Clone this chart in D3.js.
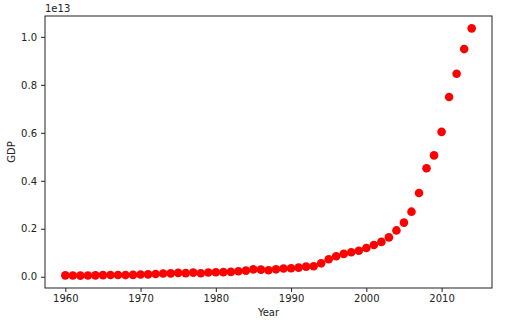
<!DOCTYPE html>
<html>
<head>
<meta charset="utf-8">
<script src="https://cdn.jsdelivr.net/npm/d3@7"></script>
<style>
  html, body { margin: 0; padding: 0; background: #fff; }
  svg { display: block; font-family: "DejaVu Sans", sans-serif; }
</style>
</head>
<body>
<svg id="chart" width="515" height="332"></svg>
<script>
// China GDP, current US$, 1960-2014
const years = d3.range(1960, 2015);
const gdp = [
  5.918e10, 4.956e10, 4.680e10, 5.000e10, 5.900e10, 6.970e10, 7.588e10, 7.206e10, 6.999e10, 7.872e10,
  9.150e10, 9.856e10, 1.1216e11, 1.3677e11, 1.4236e11, 1.6162e11, 1.5199e11, 1.7235e11, 1.4838e11, 1.7635e11,
  1.8960e11, 1.9404e11, 2.0309e11, 2.2810e11, 2.5730e11, 3.0667e11, 2.9759e11, 2.7037e11, 3.0967e11, 3.4397e11,
  3.5694e11, 3.7945e11, 4.2257e11, 4.4073e11, 5.5976e11, 7.2757e11, 8.5608e11, 9.5267e11, 1.0195e12, 1.0833e12,
  1.1985e12, 1.3248e12, 1.4538e12, 1.6410e12, 1.9316e12, 2.2569e12, 2.7130e12, 3.4942e12, 4.5215e12, 5.0596e12,
  6.0393e12, 7.4925e12, 8.4616e12, 9.4906e12, 1.0354e13
];
const xTicks = [1960, 1970, 1980, 1990, 2000, 2010];
const yTicks = [0, 0.2e13, 0.4e13, 0.6e13, 0.8e13, 1.0e13];

const svg = d3.select("#chart");
const plotLeft = 45, plotRight = 492, plotTop = 16, plotBottom = 288;

// 5% padding on both axes, as in the default plotting margins
const xMin = d3.min(years), xMax = d3.max(years);
const xPad = (xMax - xMin) * 0.05;
const yMin = d3.min(gdp), yMax = d3.max(gdp);
const yPad = (yMax - yMin) * 0.05;

const x = d3.scaleLinear().domain([xMin - xPad, xMax + xPad]).range([plotLeft, plotRight]);
const y = d3.scaleLinear().domain([yMin - yPad, yMax + yPad]).range([plotBottom, plotTop]);

const ink = "#222";

// frame
svg.append("rect")
  .attr("x", plotLeft).attr("y", plotTop)
  .attr("width", plotRight - plotLeft).attr("height", plotBottom - plotTop)
  .attr("fill", "none").attr("stroke", ink).attr("stroke-width", 1);

const xAxis = svg.append("g")
  .attr("transform", `translate(0,${plotBottom})`)
  .call(d3.axisBottom(x).tickValues(xTicks).tickFormat(d3.format("d")).tickSize(4).tickPadding(3));
const yAxis = svg.append("g")
  .attr("transform", `translate(${plotLeft},0)`)
  .call(d3.axisLeft(y).tickValues(yTicks).tickFormat(d => (d / 1e13).toFixed(1)).tickSize(4).tickPadding(4));

[xAxis, yAxis].forEach(g => {
  g.select(".domain").remove();
  g.selectAll("line").attr("stroke", ink);
  g.selectAll("text").attr("fill", ink).style("font-size", "10px").style("font-family", "DejaVu Sans, sans-serif");
});

// offset label
svg.append("text")
  .attr("x", plotLeft).attr("y", 12)
  .attr("fill", ink).style("font-size", "10px")
  .text("1e13");

// axis titles
svg.append("text")
  .attr("x", (plotLeft + plotRight) / 2).attr("y", 316)
  .attr("text-anchor", "middle").attr("fill", ink).style("font-size", "10px")
  .text("Year");
svg.append("text")
  .attr("transform", `translate(15,${(plotTop + plotBottom) / 2}) rotate(-90)`)
  .attr("text-anchor", "middle").attr("fill", ink).style("font-size", "10px")
  .text("GDP");

// points
svg.append("g")
  .selectAll("circle")
  .data(years.map((yr, i) => ({ yr, v: gdp[i] })))
  .join("circle")
  .attr("cx", d => x(d.yr))
  .attr("cy", d => y(d.v))
  .attr("r", 4.3)
  .attr("fill", "#ff0000");
</script>
</body>
</html>
